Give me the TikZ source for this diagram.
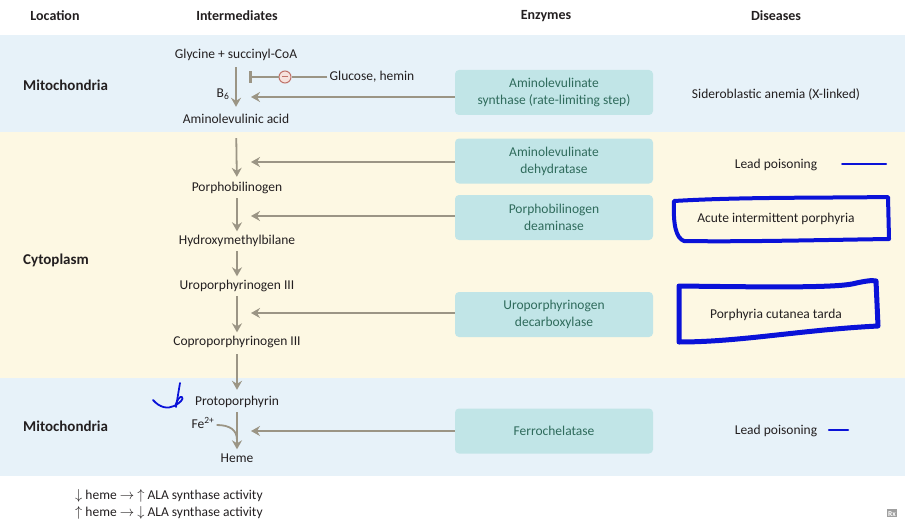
\documentclass[tikz,border=0pt]{standalone}
\usepackage{fontspec}
\setmainfont{Carlito}
\usetikzlibrary{arrows.meta}
\definecolor{mitoblue}{HTML}{E7F2F9}
\definecolor{cytoyellow}{HTML}{FDF8E3}
\definecolor{enzfill}{HTML}{C1E5E7}
\definecolor{enztext}{HTML}{2F6B5C}
\definecolor{flowgray}{HTML}{9B9585}
\definecolor{inhred}{HTML}{C0736A}
\definecolor{inhfill}{HTML}{F6E2DD}
\definecolor{inkblue}{HTML}{0A12D8}
\definecolor{txtcol}{HTML}{231F20}
\tikzset{
    every node/.style={font=\fontsize{13.5}{17}\selectfont, text=txtcol,
    	inner sep=2pt}
}
\tikzset{
    head/.style={font=\fontsize{14}{17}\selectfont\bfseries},
    loc/.style={font=\fontsize{15}{18}\selectfont\bfseries, anchor=west},
    word/.style={text height=10pt, text depth=3pt},
    enzyme/.style={rounded corners=4pt, fill=enzfill, minimum width=198pt,
    	minimum height=45pt, align=center, text=enztext},
    flow/.style={draw=flowgray, line width=1.8pt, shorten <=1.5pt, shorten >=1pt,
    	-{Stealth[length=9pt,width=10pt,inset=3pt]}},
    ink/.style={draw=inkblue, line width=4pt, line cap=round, line join=round}
}

\begin{document}
\begin{tikzpicture}[x=1pt,y=-1pt]
	\useasboundingbox (0,0) rectangle (909,532);
	\fill[mitoblue] (0,35) rectangle (905,132);
	\fill[cytoyellow] (0,132) rectangle (905,378);
	\fill[mitoblue] (0,378) rectangle (905,476);

	\node[head] (hloc) at (55,16) {Location};
	\node[head] (hint) at (237,16) {Intermediates};
	\node[head] (henz) at (546,16) {Enzymes};
	\node[head] (hdis) at (776,16) {Diseases};

	\node[loc] (mito1) at (21,85) {Mitochondria};
	\node[loc] (cyto) at (21,260) {Cytoplasm};
	\node[loc] (mito2) at (21,426) {Mitochondria};

	\node[word] (gly) at (236,55) {Glycine + succinyl-CoA};
	\node[word] (ala) at (236,120) {Aminolevulinic acid};
	\node[word] (pbg) at (237,188) {Porphobilinogen};
	\node[word] (hmb) at (237,241) {Hydroxymethylbilane};
	\node[word] (uro) at (237,286) {Uroporphyrinogen III};
	\node[word] (copro) at (237,342) {Coproporphyrinogen III};
	\node[word] (proto) at (237,402) {Protoporphyrin};
	\node[word] (heme) at (237,459) {Heme};
	\node[word] (b6) at (223,94) {B\textsubscript{6}};
	\node[word] (fe) at (203,425) {Fe\textsuperscript{2+}};

	\node[enzyme] (enz1) at (554,92.5) {Aminolevulinate\\synthase (rate-limiting step)};
	\node[enzyme] (enz2) at (554,161) {Aminolevulinate\\dehydratase};
	\node[enzyme] (enz3) at (554,217.5) {Porphobilinogen\\deaminase};
	\node[enzyme] (enz4) at (554,314.5) {Uroporphyrinogen\\decarboxylase};
	\node[enzyme] (enz5) at (554,431) {Ferrochelatase};

	\node[word] (dis1) at (776,95) {Sideroblastic anemia (X-linked)};
	\node[word] (dis2) at (776,165) {Lead poisoning};
	\node[word] (dis3) at (776,219) {Acute intermittent porphyria};
	\node[word] (dis4) at (776,315) {Porphyria cutanea tarda};
	\node[word] (dis5) at (776,431) {Lead poisoning};

	\node[word] (glu) at (372,77) {Glucose, hemin};
	\node[circle, draw=inhred, fill=inhfill, line width=1pt, minimum size=12pt,
		inner sep=0pt] (inh) at (285,77) {};
	\coordinate (bar) at (250,77);

	\coordinate (t1) at (251,97);
	\coordinate (t2) at (251,162);
	\coordinate (t3) at (251,216);
	\coordinate (t4) at (251,313);
	\coordinate (t5) at (251,431);
	\coordinate (join) at (237,440);

	\draw[flow, shorten <=3.5pt, shorten >=4.5pt] (gly) -- (ala);
	\draw[flow, shorten <=9.5pt, shorten >=2.5pt] (ala) -- (pbg);
	\draw[flow] (pbg) -- (hmb);
	\draw[flow] (hmb) -- (uro);
	\draw[flow] (uro) -- (copro);
	\draw[flow, shorten <=3.5pt, shorten >=3.5pt] (copro) -- (proto);
	\draw[flow] (proto) -- (heme);
	\draw[flowgray, line width=1.8pt] (fe.east) .. controls (230,425) and (237,430) .. (join);

	\draw[flow, shorten <=0pt, shorten >=0pt] (enz1.west |- t1) -- (t1);
	\draw[flow, shorten <=0pt, shorten >=0pt] (enz2.west |- t2) -- (t2);
	\draw[flow, shorten <=0pt, shorten >=0pt] (enz3.west |- t3) -- (t3);
	\draw[flow, shorten <=0pt, shorten >=0pt] (enz4.west |- t4) -- (t4);
	\draw[flow, shorten <=0pt, shorten >=0pt] (enz5.west |- t5) -- (t5);

	\draw[flowgray, line width=1.8pt] (glu.west) -- (inh.east);
	\draw[flowgray, line width=1.8pt] (inh.west) -- (bar);
	\draw[flowgray, line width=3pt] ([yshift=-6pt]bar) -- ([yshift=6pt]bar);
	\draw[inhred, line width=1pt] ([xshift=-3pt]inh.center) -- ([xshift=3pt]inh.center);

	\node[anchor=west] (leg1) at (73,496) {$\downarrow$ heme $\rightarrow$ $\uparrow$ ALA synthase activity};
	\node[anchor=west] (leg2) at (73,513) {$\uparrow$ heme $\rightarrow$ $\downarrow$ ALA synthase activity};
	\node[fill=gray!75, text=white, inner sep=1pt, text height=6pt, text depth=0pt,
		font=\fontsize{7.5}{7.5}\selectfont\bfseries] (rx) at (892,513) {Rx};

	\draw[ink, line width=2pt] (842,164) -- (886,164);
	\draw[ink] (674,201) .. controls (740,197) and (820,198) .. (888,197)
		-- (889,239) .. controls (820,240) and (740,242) .. (684,241)
		.. controls (676,238) and (673,225) .. cycle;
	\draw[ink, line width=5pt] (679,286) .. controls (760,287) and (830,288) .. (852,284)
		.. controls (865,281) and (872,280) .. (876,281) -- (878,326)
		.. controls (800,330) and (740,342) .. (679,342) -- cycle;
	\draw[ink, line width=2.5pt] (829,430) -- (848,430);
	\draw[ink, line width=1.8pt] (153,400) .. controls (160,408) and (168,409) .. (174,406)
		.. controls (180,403) and (184,399) .. (182,397) .. controls (180,396) and (177,400) .. (176,404);
	\draw[ink, line width=1.8pt] (180,383) -- (176,407);
\end{tikzpicture}
\end{document}
